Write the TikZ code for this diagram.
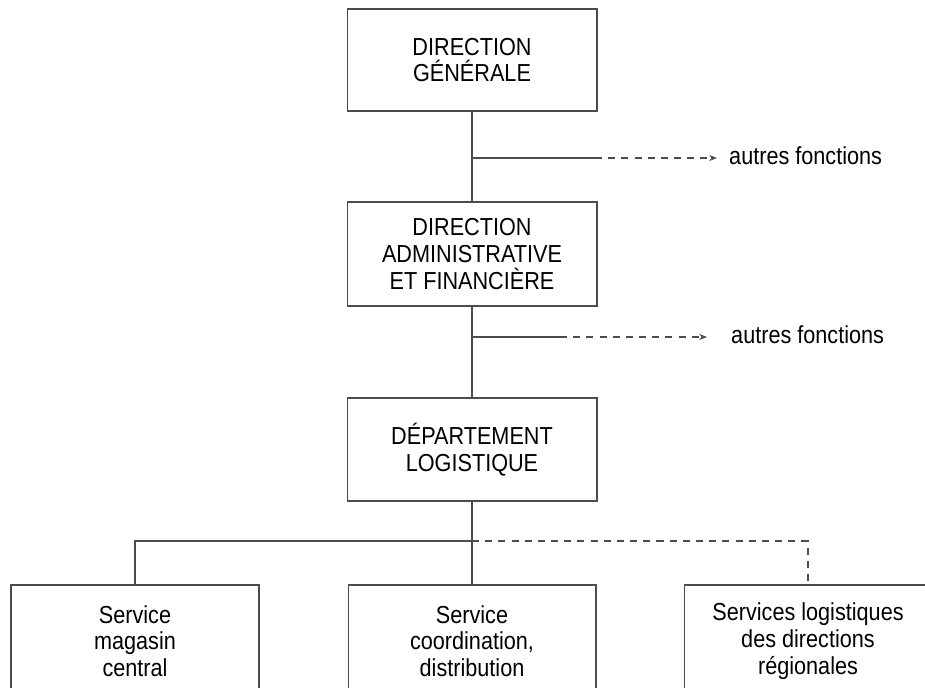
\documentclass[tikz,border=0pt]{standalone}
\usepackage{fontspec}
\setmainfont[FakeStretch=0.88]{Liberation Sans}
\usetikzlibrary{arrows.meta}
\tikzset{every node/.style={font=\fontsize{14pt}{15.2pt}\selectfont}}
\tikzset{
  unitbox/.style={draw=linecol, line width=0.6pt, align=center, minimum width=5cm, inner sep=0pt},
  servbox/.style={unitbox, minimum width=4.96cm, minimum height=2.24cm},
  link/.style={draw=linecol, line width=0.6pt},
  dashlink/.style={link, dash pattern=on 4pt off 3.5pt}
}

\begin{document}
\begin{tikzpicture}[x=0.02cm, y=-0.02cm, >={Stealth[length=4.5pt, width=3.5pt]}]
  % Cadre fixe de la page
  \path[use as bounding box] (0,0) rectangle (925,687);
  \clip (0,0) rectangle (925,687);

  % Colors.
  \colorlet{linecol}{black!70}

  % Main levels.
  \node[unitbox, minimum height=2.04cm] (dg) at (472,60) {DIRECTION\\GÉNÉRALE};
  \node[unitbox, minimum height=2.08cm] (daf) at (472,254) {DIRECTION\\ADMINISTRATIVE\\ET FINANCIÈRE};
  \node[unitbox, minimum height=2.06cm] (dl) at (472,449.5) {DÉPARTEMENT\\LOGISTIQUE};

  % Services (cut by the frame).
  \node[servbox] (smc) at (135,641) {Service\\magasin\\central};
  \node[servbox] (scd) at (472,641) {Service\\coordination,\\distribution};
  \node[servbox] (slr) at (808,641) {Services logistiques\\des directions\\régionales};

  % Links between levels.
  \draw[link] (dg) -- (daf);
  \draw[link] (daf) -- (dl);
  \draw[link] (dl) -- (scd);

  % Other functions.
  \coordinate (b1) at (472,158);
  \coordinate (d1) at (595,158);
  \coordinate (e1) at (717,158);
  \node[anchor=west] (af1) at (723,156) {autres fonctions};
  \draw[link] (b1) -- (d1);
  \draw[dashlink, ->] (d1) -- (e1);

  \coordinate (b2) at (472,337);
  \coordinate (d2) at (560,337);
  \coordinate (e2) at (707,337);
  \node[anchor=west] (af2) at (725,335) {autres fonctions};
  \draw[link] (b2) -- (d2);
  \draw[dashlink, ->] (d2) -- (e2);

  % Bus to the services.
  \coordinate (bus) at (472,541);
  \draw[link] (smc.north) |- (bus);
  \draw[dashlink] (bus) -| (slr.north);
\end{tikzpicture}
\end{document}
